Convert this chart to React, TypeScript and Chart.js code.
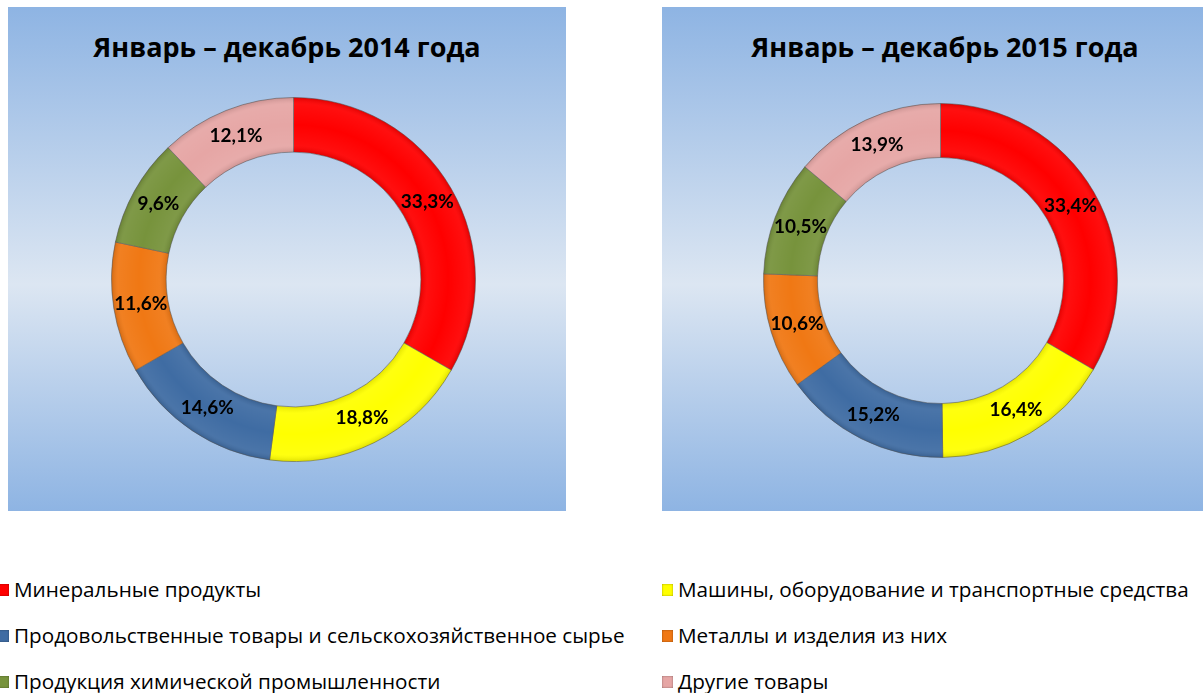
import React, { useEffect, useRef } from "react";
import { Chart, registerables } from "chart.js";

Chart.register(...registerables);

// ---- Data ----
const categories = [
  "Минеральные продукты",
  "Машины, оборудование и транспортные средства",
  "Продовольственные товары и сельскохозяйственное сырье",
  "Металлы и изделия из них",
  "Продукция химической промышленности",
  "Другие товары",
];
const values2014 = [33.3, 18.8, 14.6, 11.6, 9.6, 12.1];
const values2015 = [33.4, 16.4, 15.2, 10.6, 10.5, 13.9];
const titles = ["Январь – декабрь 2014 года", "Январь – декабрь 2015 года"];

// ---- Styles ----
const colors = ["#FF0000", "#FFFF00", "#3F6CA3", "#F07814", "#77933C", "#E6A6A5"];

const panels = [
  { left: 8, top: 7, width: 558, height: 504, cx: 285.5, cy: 272, r: 182, cutout: "70%", values: values2014, title: titles[0] },
  { left: 662, top: 7, width: 566, height: 504, cx: 278.5, cy: 273, r: 177, cutout: "69.5%", values: values2015, title: titles[1] },
];

const fmt = (v: number) => v.toFixed(1).replace(".", ",") + "%";

const labelPlugin = {
  id: "sliceLabels",
  afterDatasetsDraw(chart: any) {
    const ctx = chart.ctx;
    const meta = chart.getDatasetMeta(0);
    const data = chart.data.datasets[0].data as number[];
    ctx.save();
    ctx.font = "bold 19px Lato";
    ctx.fillStyle = "#000";
    ctx.textAlign = "center";
    ctx.textBaseline = "middle";
    meta.data.forEach((arc: any, i: number) => {
      const p = arc.getCenterPoint();
      ctx.fillText(fmt(data[i]), p.x, p.y);
    });
    ctx.restore();
  },
};

const bevelPlugin = {
  id: "bevel",
  afterDatasetDraw(chart: any) {
    const ctx = chart.ctx;
    const meta = chart.getDatasetMeta(0);
    meta.data.forEach((arc: any) => {
      const { x, y, startAngle, endAngle, innerRadius, outerRadius } = arc.getProps(
        ["x", "y", "startAngle", "endAngle", "innerRadius", "outerRadius"],
        true
      );
      const g = ctx.createRadialGradient(x, y, innerRadius, x, y, outerRadius);
      g.addColorStop(0, "rgba(0,0,0,0.10)");
      g.addColorStop(0.12, "rgba(255,255,255,0.06)");
      g.addColorStop(0.5, "rgba(255,255,255,0)");
      g.addColorStop(0.88, "rgba(255,255,255,0.06)");
      g.addColorStop(1, "rgba(0,0,0,0.12)");
      ctx.save();
      ctx.beginPath();
      ctx.arc(x, y, outerRadius, startAngle, endAngle);
      ctx.arc(x, y, innerRadius, endAngle, startAngle, true);
      ctx.closePath();
      ctx.fillStyle = g;
      ctx.fill();
      ctx.restore();
    });
  },
};

function DonutPanel(props: any) {
  const { left, top, width, height, cx, cy, r, cutout, values, title } = props;
  const ref = useRef<HTMLCanvasElement>(null);
  const size = Math.round(2 * r + 1);

  useEffect(() => {
    if (!ref.current) return;
    const chart = new Chart(ref.current, {
      type: "doughnut",
      data: {
        labels: categories,
        datasets: [
          {
            data: values,
            backgroundColor: colors,
            borderColor: "rgba(90,90,90,0.55)",
            borderWidth: 1,
          },
        ],
      },
      options: {
        responsive: false,
        animation: false,
        cutout,
        rotation: 0,
        layout: { padding: 0 },
        plugins: {
          legend: { display: false },
          tooltip: { enabled: false },
          title: { display: false },
        },
      },
      plugins: [bevelPlugin, labelPlugin],
    } as any);
    return () => chart.destroy();
  }, []);

  return (
    <div
      style={{
        position: "absolute",
        left,
        top,
        width,
        height,
        background: "linear-gradient(180deg, #8EB4E3 0%, #DCE6F2 55%, #8EB4E3 100%)",
      }}
    >
      <div
        style={{
          position: "absolute",
          left: 0,
          top: 24,
          width: "100%",
          height: 32,
          lineHeight: "32px",
          textAlign: "center",
          fontFamily: "'Open Sans'",
          fontWeight: 700,
          fontSize: 27,
          color: "#000",
          whiteSpace: "nowrap",
        }}
      >
        {title}
      </div>
      <canvas
        ref={ref}
        width={size}
        height={size}
        style={{
          position: "absolute",
          left: cx - size / 2,
          top: cy - size / 2,
          width: size,
          height: size,
        }}
      />
    </div>
  );
}

const legendCols = [
  { marker: -2, text: 14 },
  { marker: 662, text: 678 },
];
const legendRowTop = [577, 623, 669];

export default function App() {
  return (
    <div
      style={{
        position: "absolute",
        left: 0,
        top: 0,
        width: 1203,
        height: 693,
        overflow: "hidden",
        background: "#fff",
      }}
    >
      {panels.map((p, i) => (
        <DonutPanel key={i} {...p} />
      ))}
      {categories.map((c, i) => {
        const col = legendCols[i % 2];
        const rowTop = legendRowTop[Math.floor(i / 2)];
        return (
          <React.Fragment key={c}>
            <div
              style={{
                position: "absolute",
                left: col.marker,
                top: rowTop + 7,
                width: 11,
                height: 12,
                background: colors[i],
                boxShadow: "inset 0 0 2px rgba(0,0,0,0.45)",
              }}
            />
            <div
              style={{
                position: "absolute",
                left: col.text,
                top: rowTop,
                height: 24,
                lineHeight: "24px",
                fontFamily: "'Open Sans'",
                fontSize: 20.7,
                color: "#000",
                whiteSpace: "nowrap",
              }}
            >
              {c}
            </div>
          </React.Fragment>
        );
      })}
    </div>
  );
}
